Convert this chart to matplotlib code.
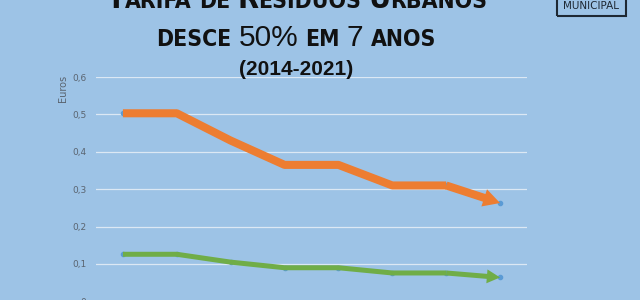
import os
import matplotlib
matplotlib.use("Agg")
import matplotlib.pyplot as plt
from matplotlib import font_manager
from matplotlib.font_manager import FontProperties
from matplotlib.patches import Rectangle

# dados (euros)
anos = [2014, 2015, 2016, 2017, 2018, 2019, 2020, 2021]
tarifa_laranja = [0.503, 0.503, 0.43, 0.365, 0.365, 0.31, 0.31, 0.263]
tarifa_verde = [0.126, 0.126, 0.105, 0.09, 0.09, 0.076, 0.076, 0.064]
yticks = [0, 0.1, 0.2, 0.3, 0.4, 0.5, 0.6]
ylabels = ["0", "0,1", "0,2", "0,3", "0,4", "0,5", "0,6"]

fundo = "#9DC3E6"
laranja = "#ED7D31"
verde = "#70AD47"
azul = "#5B9BD5"
cinza = "#5A6470"

def procura(*nomes):
    for nome in nomes:
        for f in font_manager.fontManager.ttflist:
            if os.path.basename(f.fname).lower() == nome.lower():
                return f.fname
    return None

# letra estreita e negrita para os versaletes
ficheiro = procura("LiberationSansNarrow-Bold.ttf", "DejaVuSansCondensed-Bold.ttf")
larga_b = procura("LiberationSans-Bold.ttf", "Arimo-Bold.ttf")
larga = procura("LiberationSans-Regular.ttf", "Arimo-Regular.ttf")

W, H = 640, 300
fig = plt.figure(figsize=(6.4, 3.0), dpi=100, facecolor=fundo)
ax = fig.add_axes([96 / W, -1.4 / H, 431 / W, 224.4 / H])
ax.set_facecolor(fundo)
for s in ax.spines.values():
    s.set_visible(False)

x = list(range(len(anos)))
ax.set_xlim(-0.5, len(anos) - 0.5)
ax.set_ylim(0, 0.6)
ax.set_yticks(yticks)
ax.set_yticklabels(ylabels)
ax.set_xticks([])
ax.tick_params(axis="y", length=0, pad=7, labelsize=6.5, labelcolor=cinza)
ax.grid(axis="y", color="#DCE8F4", lw=0.9)
ax.set_axisbelow(True)

# linhas com seta no fim
def serie(vals, cor, lw, hw, hl, z):
    ax.plot(x[:-1], vals[:-1], color=cor, lw=lw, solid_joinstyle="round",
            solid_capstyle="butt", zorder=z)
    ax.plot(x, vals, "o", color=azul, ms=3, zorder=z - 0.5)
    ax.annotate("", xy=(x[-1], vals[-1]), xytext=(x[-2], vals[-2]),
                arrowprops=dict(arrowstyle="simple,head_length=%g,head_width=%g,tail_width=%g" % (hl, hw, lw / 10),
                                mutation_scale=10, color=cor, lw=0,
                                shrinkA=0, shrinkB=0), zorder=z)

serie(tarifa_verde, verde, 3.6, 1.0, 0.95, 3)
serie(tarifa_laranja, laranja, 5.8, 1.3, 1.2, 5)

fig.text(63 / W, 1 - 88 / H, "Euros", rotation=90, ha="center", va="center",
         fontsize=7, color=cinza)

# título em versaletes
r = fig.canvas.get_renderer()

def linha(pecas, xc, yb):
    textos = []
    total = 0
    for s, kw in pecas:
        if s == " ":
            t1 = fig.text(0, 0, "x x", **kw)
            t2 = fig.text(0, 0, "xx", **kw)
            w = t1.get_window_extent(r).width - t2.get_window_extent(r).width
            t1.remove()
            t2.remove()
            textos.append((None, w))
        else:
            t = fig.text(0, yb / H, s, va="baseline", ha="left", **kw)
            w = t.get_window_extent(r).width
            textos.append((t, w))
        total += w
    xp = xc - total / 2
    for t, w in textos:
        if t is not None:
            t.set_x(xp / W)
        xp += w

def fp(fich, tam, **alt):
    if fich:
        return FontProperties(fname=fich, size=tam)
    return FontProperties(family="DejaVu Sans", size=tam, **alt)

pq = dict(fontproperties=fp(ficheiro, 16.5, weight="bold", stretch="condensed"), color="#111111")
gr = dict(fontproperties=fp(ficheiro, 22, weight="bold", stretch="condensed"), color="#111111")
nr = dict(fontproperties=fp(larga, 21.5), color="#111111")
sp = dict(fontproperties=fp(ficheiro, 16.5, weight="bold", stretch="condensed"))

linha([("T", gr), ("ARIFA", pq), (" ", sp), ("DE", pq), (" ", sp), ("R", gr),
       ("ESÍDUOS", pq), (" ", sp), ("U", gr), ("RBANOS", pq)], 297, H - 7.7)
linha([("DESCE", pq), (" ", sp), ("50%", nr), (" ", sp), ("EM", pq), (" ", sp),
       ("7", nr), (" ", sp), ("ANOS", pq)], 296, H - 45.7)
fig.text(296 / W, 1 - 75 / H, "(2014-2021)", ha="center", va="baseline",
         fontproperties=fp(larga_b, 15, weight="bold"), color="#111111")

# logótipo
fig.patches.append(Rectangle((557 / W, 1 - 16 / H), 69 / W, 25 / H,
                             transform=fig.transFigure, fill=False,
                             edgecolor="#1E2833", lw=1.5))
fig.text(591 / W, 1 - 6 / H, "MUNICIPAL", ha="center", va="center",
         fontsize=7.5, color="#1E2833")

fig.savefig("out.png", dpi=100, facecolor=fundo)
